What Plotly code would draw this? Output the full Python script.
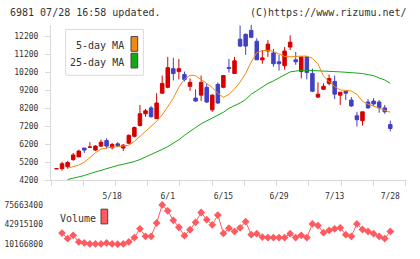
import plotly.graph_objects as go

W, H = 420, 259

# ---------------- data ----------------
opens  = [4850, 4854, 4963, 5362, 5509, 6000, 6045, 5891, 6109, 6419,
          6016, 6234, 6000, 6272, 6654, 7254, 7908, 8235, 7636, 9053,
          9380, 10416, 10253, 10089, 9435, 8781, 8944, 9380, 8126, 9544,
          9380, 10487, 10144, 12052, 12325, 12543, 11943, 10907, 11398, 11289,
          10798, 10580, 11616, 10907, 10253, 11071, 10144, 8835, 9271, 9598,
          9707, 8944, 9162, 8671, 7799, 7526, 8562, 8617, 8562, 8235,
          7308]
highs  = [4854, 5236, 5291, 5727, 5907, 6000, 6327, 6163, 6474, 6545,
          6289, 6327, 6218, 6763, 7199, 8399, 8181, 8344, 9053, 10035,
          11071, 11017, 10962, 10253, 9871, 9271, 10035, 9598, 8999, 9653,
          10035, 10962, 11071, 12816, 12380, 12871, 12107, 11453, 11998, 11507,
          11180, 11616, 12271, 11344, 11071, 11071, 10416, 9653, 9598, 10089,
          10035, 9108, 9162, 8835, 8017, 8017, 8726, 8781, 8671, 8399,
          7526]
lows   = [4850, 4745, 4854, 5291, 5509, 5727, 6000, 5836, 6054, 6000,
          5928, 6054, 5836, 6218, 6599, 7199, 7745, 7690, 7636, 8999,
          9326, 9762, 9817, 9708, 9180, 8562, 8617, 8508, 8017, 8453,
          9326, 10198, 10144, 11616, 11180, 12107, 10907, 10689, 11071, 10525,
          10307, 10362, 11453, 10634, 9871, 9817, 9108, 8781, 9217, 9489,
          8726, 8399, 8671, 8290, 7199, 7254, 8181, 8344, 7963, 7908,
          6927]
closes = [4854, 5127, 5198, 5618, 5836, 5891, 6054, 6109, 6327, 6109,
          6201, 6125, 6163, 6708, 7145, 7908, 8072, 7745, 8508, 9598,
          10471, 10144, 10416, 9817, 9653, 8617, 9653, 8562, 8944, 8508,
          10035, 10432, 10853, 11671, 11671, 12161, 10907, 11016, 11780, 10689,
          10689, 11398, 11889, 10798, 11071, 10198, 9162, 8999, 9435, 9871,
          8999, 9108, 9053, 8344, 7581, 8017, 8235, 8453, 8235, 8017,
          7090]

ma5 = [None, None, 4881, 4979, 5055, 5208, 5497, 5742, 5944, 6015,
       6053, 6080, 6135, 6162, 6371, 6644, 6889, 7161, 7488, 7842,
       8333, 8769, 9396, 9832, 10050, 10023, 9805, 9560, 9369, 9042,
       8824, 8987, 9287, 9669, 10160, 10787, 11305, 11414, 11441, 11370,
       11223, 11098, 11076, 11114, 11114, 11114, 10989, 10678, 9996, 9696,
       9424, 9233, 9205, 9178, 8987, 8606, 8442, 8333, 8197, 8088,
       7990]
ma25 = [None, None, 4254, 4325, 4390, 4472, 4581, 4674, 4783, 4881,
        4947, 5034, 5099, 5170, 5252, 5361, 5492, 5628, 5781, 5928,
        6081, 6256, 6463, 6709, 6954, 7145, 7347, 7516, 7663, 7811,
        7991, 8209, 8345, 8508, 8699, 8999, 9190, 9408, 9598, 9735,
        9898, 10062, 10237, 10280, 10324, 10324, 10318, 10296, 10280, 10269,
        10253, 10237, 10226, 10198, 10171, 10144, 10073, 10024, 9898, 9789,
        9598]
volume = [None, 28670000, 19500000, 24900000, 13930000, 12300000, 10660000, 10660000, 10660000, 12300000,
          10660000, 10166800, 10660000, 13930000, 21140000, 35870000, 23270000, 23270000, 45700000, 75663400,
          65840000, 49960000, 38490000, 24410000, 34240000, 46680000, 63050000, 51100000, 42420000, 58800000,
          28180000, 36860000, 31450000, 37510000, 47830000, 26050000, 27690000, 22120000, 21140000, 21140000,
          21140000, 21140000, 27690000, 21140000, 24900000, 21140000, 44060000, 41280000, 29320000, 33090000,
          35870000, 37510000, 26050000, 23270000, 44060000, 34730000, 31450000, 27690000, 23270000, 19500000,
          31450000]

idx = list(range(len(closes)))
date_idx = [10, 20, 30, 40, 50, 60]
date_labels = ["5/18", "6/1", "6/15", "6/29", "7/13", "7/28"]
price_ticks = [4200, 5200, 6200, 7200, 8200, 9200, 10200, 11200, 12200]
vol_ticks = [10166800, 42915100, 75663400]

# ---------------- styling ----------------
RED = "#d40000"
BLUE = "#4040c4"
ORANGE = "#f08a10"
GREEN = "#14a814"
VOLC = "#ff5a60"
GRID = "#d8d8d8"
TXT = "#333333"
MONO = "DejaVu Sans Mono"

def px_x(x):
    return x / W

def px_y(y):
    return 1 - y / H

X0, X1 = -0.9886, 62.77
xdom = [px_x(51), px_x(405.7)]
ydom = [px_y(184), px_y(25)]
vdom = [px_y(255), px_y(203)]

fig = go.Figure()
fig.add_trace(go.Scatter(x=idx, y=ma25, mode="lines", line=dict(color=GREEN, width=1),
                         hoverinfo="skip", showlegend=False))
fig.add_trace(go.Scatter(x=idx, y=ma5, mode="lines", line=dict(color=ORANGE, width=1),
                         hoverinfo="skip", showlegend=False))
fig.add_trace(go.Candlestick(
    x=idx, open=opens, high=highs, low=lows, close=closes,
    increasing=dict(line=dict(color=RED, width=1), fillcolor=RED),
    decreasing=dict(line=dict(color=BLUE, width=1), fillcolor=BLUE),
    whiskerwidth=0, showlegend=False))
fig.add_trace(go.Scatter(x=idx, y=volume, mode="lines+markers", xaxis="x2", yaxis="y2",
                         line=dict(color=VOLC, width=1),
                         marker=dict(symbol="diamond", size=6, color=VOLC),
                         showlegend=False, connectgaps=False))
# invisible trace to carry the date-label axis
fig.add_trace(go.Scatter(x=date_idx, y=[None]*len(date_idx), xaxis="x3", yaxis="y",
                         showlegend=False, hoverinfo="skip"))

grid_pos = [X0 + k * (X1 - X0) / 11 for k in range(12)]

fig.update_layout(
    width=W, height=H, autosize=False,
    margin=dict(l=0, r=0, t=0, b=0),
    paper_bgcolor="white", plot_bgcolor="white",
    boxgap=0.1,
    showlegend=False,
    xaxis=dict(domain=xdom, range=[X0, X1], anchor="y", showgrid=False, zeroline=False,
               showline=True, linecolor=GRID, linewidth=1,
               tickmode="array", tickvals=grid_pos, showticklabels=False,
               ticks="outside", ticklen=5, tickcolor=GRID, tickwidth=1,
               rangeslider=dict(visible=False)),
    xaxis3=dict(domain=xdom, range=[X0, X1], anchor="y", overlaying="x", side="bottom",
                showgrid=False, zeroline=False, showline=False,
                tickmode="array", tickvals=date_idx, ticktext=date_labels,
                ticks="", ticklabelstandoff=10,
                tickfont=dict(family=MONO, size=8, color=TXT)),
    yaxis=dict(domain=ydom, range=[4200, 12871], anchor="x", showgrid=False, zeroline=False,
               showline=True, linecolor=GRID, linewidth=1,
               tickmode="array", tickvals=price_ticks, ticks="outside", ticklen=5,
               tickcolor=GRID, tickwidth=1, tickformat="d", ticklabelstandoff=5,
               tickfont=dict(family=MONO, size=8, color=TXT)),
    xaxis2=dict(domain=xdom, range=[X0, X1], anchor="y2", showgrid=False, zeroline=False,
                showline=False, showticklabels=False, ticks=""),
    yaxis2=dict(domain=vdom, range=[342310, 85487890], anchor="x2", showgrid=False,
                zeroline=False, showline=False, tickmode="array", tickvals=vol_ticks,
                ticks="", tickformat="d", ticklabelstandoff=7,
                tickfont=dict(family=MONO, size=8, color=TXT)),
)

ann = [
    dict(text="6981 07/28 16:58 updated.", x=px_x(8), y=px_y(13), xanchor="left"),
    dict(text="(C)https://www.rizumu.net/", x=px_x(409), y=px_y(13), xanchor="right"),
    dict(text="5-day MA", x=px_x(126), y=px_y(46), xanchor="right"),
    dict(text="25-day MA", x=px_x(126), y=px_y(63.3), xanchor="right"),
    dict(text="Volume", x=px_x(58), y=px_y(222.3), xanchor="left"),
]
for a in ann:
    fig.add_annotation(xref="paper", yref="paper", showarrow=False, yanchor="middle",
                       font=dict(family=MONO, size=10, color=TXT), **{k: v for k, v in a.items()})

shapes = [
    dict(x0=65.7, y0=30, x1=143.3, y1=76.7, line=dict(color="#d9d9d9", width=1), fillcolor="white"),
    dict(x0=131, y0=37.3, x1=137.7, y1=52.3, line=dict(color="#444444", width=1), fillcolor=ORANGE),
    dict(x0=131, y0=54.3, x1=137.7, y1=69.3, line=dict(color="#444444", width=1), fillcolor=GREEN),
    dict(x0=101, y0=213.3, x1=107.7, y1=228.3, line=dict(color="#444444", width=1), fillcolor=VOLC),
]
for s in shapes:
    fig.add_shape(type="rect", xref="paper", yref="paper",
                  x0=px_x(s["x0"]), x1=px_x(s["x1"]), y0=px_y(s["y0"]), y1=px_y(s["y1"]),
                  line=s["line"], fillcolor=s["fillcolor"], layer="above")

fig.write_html("out.html")
